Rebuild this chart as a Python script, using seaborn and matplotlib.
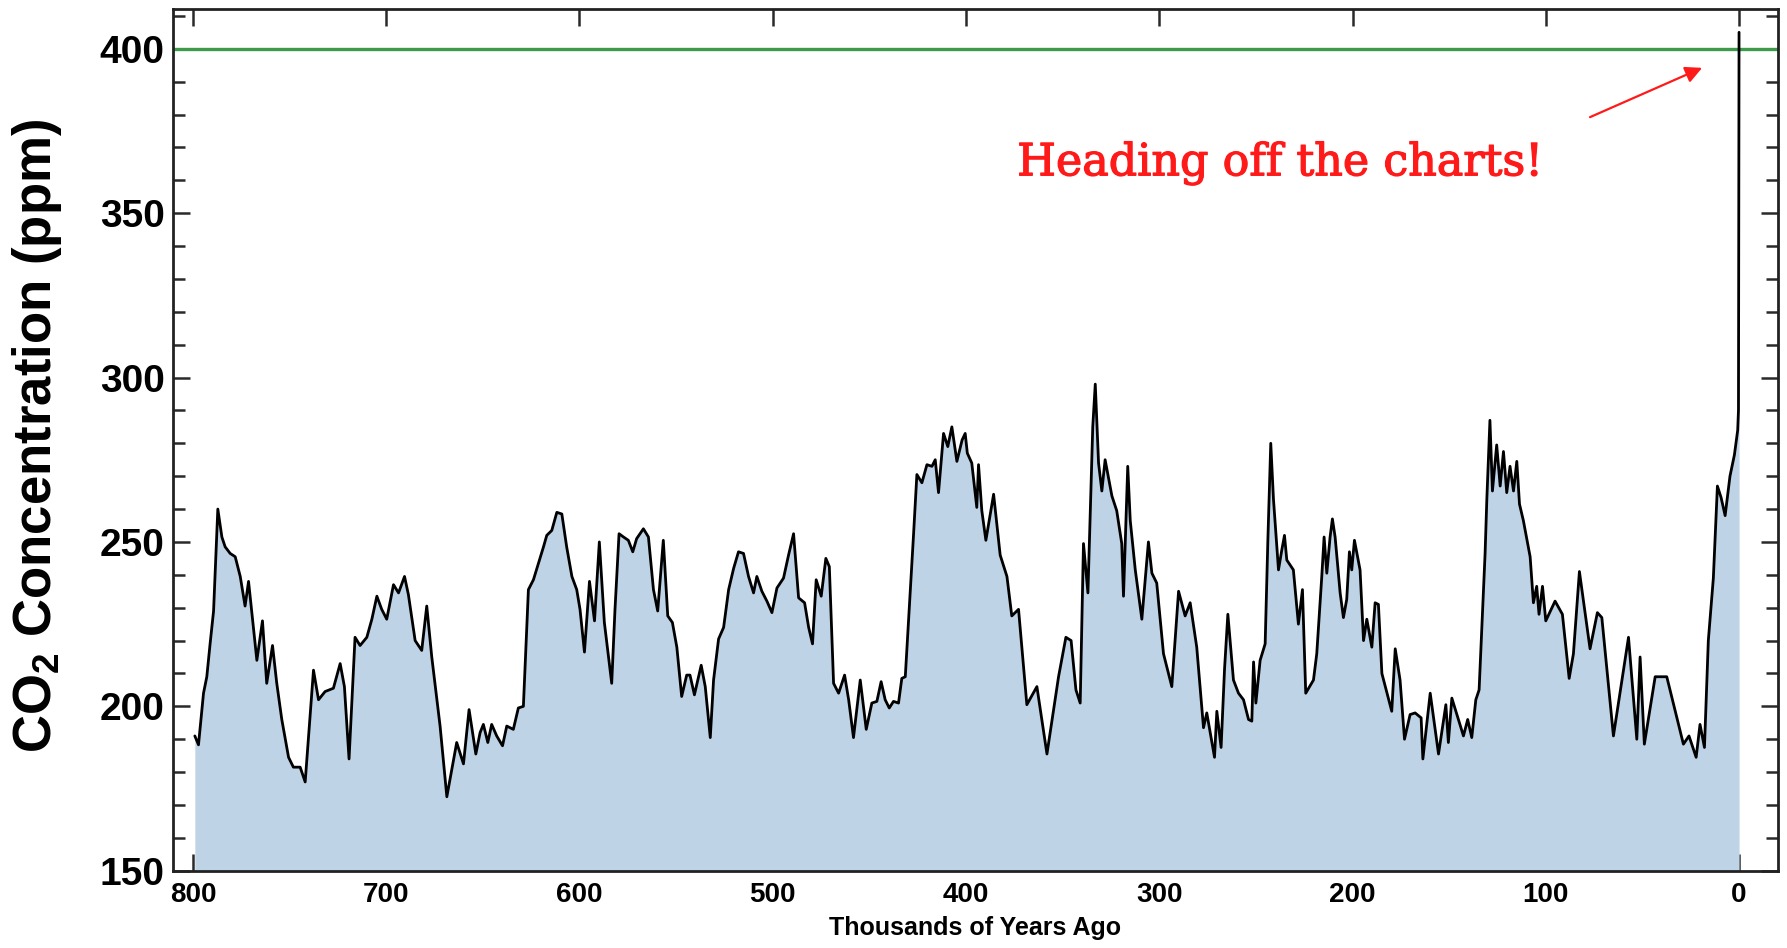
import matplotlib
matplotlib.use("Agg")
import matplotlib.pyplot as plt
import matplotlib.patheffects as pe
from matplotlib.ticker import MultipleLocator
import pandas as pd
import seaborn as sns

# Ice-core CO2 record: age in thousands of years before present, concentration in ppm
kyr_ago = [
    799.0, 797.1, 794.5, 792.8, 791.1, 789.3, 787.1, 785.0, 783.3, 780.7,
    778.1, 775.5, 773.0, 771.2, 769.5, 766.9, 764.0, 761.8, 758.8, 756.6,
    754.0, 750.5, 748.0, 744.5, 741.9, 737.6, 735.0, 731.6, 727.3, 723.8,
    721.6, 719.2, 716.1, 713.5, 710.0, 707.4, 704.8, 702.3, 699.7, 696.2,
    693.6, 690.5, 688.5, 685.0, 681.6, 679.0, 676.4, 672.1, 668.6, 666.1,
    663.5, 660.0, 657.1, 653.6, 651.4, 649.7, 647.4, 645.4, 642.8, 639.8,
    637.6, 634.2, 631.6, 629.0, 626.4, 623.8, 621.2, 618.6, 616.9, 614.3,
    611.7, 609.1, 606.6, 603.9, 601.4, 599.7, 597.4, 594.8, 592.2, 589.7,
    587.1, 583.3, 581.6, 579.5, 577.2, 574.7, 572.4, 570.4, 566.9, 564.3,
    561.7, 559.5, 556.6, 554.3, 551.9, 549.6, 547.1, 544.5, 542.8, 540.5,
    537.0, 534.9, 532.3, 530.6, 528.0, 525.4, 522.8, 520.2, 517.7, 515.1,
    512.5, 509.9, 508.2, 505.6, 503.0, 500.4, 497.8, 494.4, 491.8, 489.2,
    486.6, 483.5, 481.4, 479.4, 477.5, 474.9, 472.5, 470.7, 468.5, 465.9,
    462.8, 460.7, 458.2, 454.7, 453.9, 451.6, 448.7, 446.1, 443.9, 441.8,
    439.7, 437.5, 434.9, 433.2, 431.4, 429.7, 427.1, 425.4, 422.8, 420.2,
    417.6, 415.9, 414.2, 411.6, 409.4, 407.3, 404.7, 402.0, 400.4, 399.3,
    397.0, 394.4, 393.5, 391.8, 389.7, 385.7, 382.3, 378.8, 376.3, 372.8,
    368.5, 363.3, 358.1, 352.1, 348.3, 345.6, 343.1, 340.9, 339.2, 336.9,
    334.4, 333.1, 331.4, 329.7, 328.0, 324.5, 322.0, 319.4, 318.5, 316.3,
    315.0, 312.4, 309.0, 305.6, 303.8, 301.3, 297.8, 293.5, 290.0, 286.6,
    284.0, 280.6, 277.1, 275.4, 271.4, 270.2, 268.0, 266.2, 264.5, 261.6,
    259.0, 256.4, 253.8, 252.1, 251.2, 250.0, 247.8, 245.2, 243.8, 242.3,
    240.9, 238.3, 236.6, 235.2, 234.0, 230.6, 228.0, 225.9, 224.2, 220.2,
    218.5, 215.9, 214.7, 213.3, 211.6, 210.4, 209.0, 206.4, 204.7, 203.0,
    201.6, 200.4, 199.0, 196.1, 194.3, 192.6, 190.0, 188.3, 186.6, 184.8,
    179.7, 177.9, 175.4, 173.1, 170.2, 167.6, 164.5, 163.6, 159.8, 155.5,
    151.7, 150.4, 148.6, 142.6, 140.4, 138.3, 136.2, 134.5, 133.1, 131.4,
    130.5, 128.9, 127.6, 125.4, 123.6, 121.9, 120.2, 118.5, 116.7, 115.0,
    113.6, 111.6, 108.1, 106.4, 104.7, 103.5, 101.7, 100.0, 95.2, 91.4,
    87.9, 85.7, 82.6, 77.1, 73.3, 71.0, 65.0, 57.2, 52.9, 51.2,
    49.0, 43.4, 37.4, 28.8, 25.9, 22.2, 20.2, 17.9, 15.9, 13.3,
    11.2, 9.3, 7.2, 4.7, 2.4, 0.7, 0.3, 0.0,
]
co2_ppm = [
    191.0, 188.3, 204.0, 209.0, 219.0, 229.0, 260.0, 251.5, 248.5, 246.5,
    245.5, 239.5, 230.5, 238.0, 228.5, 214.0, 226.0, 207.0, 218.5, 207.0,
    196.0, 184.5, 181.5, 181.5, 177.0, 211.0, 202.0, 204.5, 205.5, 213.0,
    206.0, 184.0, 221.0, 218.5, 221.0, 226.5, 233.5, 229.5, 226.5, 237.0,
    234.5, 239.5, 234.0, 220.0, 217.0, 230.5, 215.0, 194.0, 172.5, 180.5,
    189.0, 182.5, 199.0, 185.5, 192.0, 194.5, 189.0, 194.5, 191.0, 188.0,
    194.0, 193.0, 199.5, 200.0, 235.5, 238.5, 243.5, 248.5, 252.0, 253.5,
    259.0, 258.5, 248.5, 239.5, 235.5, 229.5, 216.5, 238.0, 226.0, 250.0,
    225.5, 207.0, 229.5, 252.5, 251.5, 250.5, 247.0, 251.0, 254.0, 251.5,
    235.5, 229.0, 250.5, 227.5, 225.5, 218.0, 203.0, 209.5, 209.5, 203.5,
    212.5, 206.0, 190.5, 208.0, 220.5, 224.0, 235.5, 242.0, 247.0, 246.5,
    239.5, 234.5, 239.5, 235.0, 232.0, 228.5, 236.0, 239.0, 246.0, 252.5,
    233.0, 231.5, 224.0, 219.0, 238.5, 233.5, 245.0, 242.5, 207.0, 204.0,
    209.5, 202.0, 190.5, 208.0, 204.0, 193.0, 201.0, 201.5, 207.5, 202.0,
    199.5, 201.5, 201.0, 208.5, 209.0, 226.0, 252.5, 270.5, 268.0, 273.5,
    273.0, 275.0, 265.0, 283.0, 279.0, 285.0, 274.5, 281.0, 283.0, 277.0,
    274.0, 260.5, 273.5, 259.5, 250.5, 264.5, 246.0, 239.5, 227.5, 229.5,
    200.5, 206.0, 185.5, 209.0, 221.0, 220.0, 205.0, 201.0, 249.5, 234.5,
    285.0, 298.0, 274.0, 265.5, 275.0, 264.0, 259.5, 249.5, 233.5, 273.0,
    256.5, 241.5, 226.5, 250.0, 240.5, 237.5, 216.0, 206.0, 235.0, 227.5,
    231.5, 218.0, 193.5, 198.0, 184.5, 198.5, 187.5, 211.5, 228.0, 208.0,
    204.0, 202.0, 196.0, 195.5, 213.5, 201.0, 214.0, 219.0, 250.5, 280.0,
    263.0, 241.5, 247.5, 252.0, 244.5, 241.5, 225.0, 235.5, 204.0, 208.0,
    216.0, 239.5, 251.5, 240.5, 251.5, 257.0, 251.5, 234.5, 227.0, 232.5,
    247.0, 241.5, 250.5, 241.5, 220.0, 226.5, 218.0, 231.5, 231.0, 210.0,
    198.5, 217.5, 208.0, 190.0, 197.5, 198.0, 196.5, 184.0, 204.0, 185.5,
    200.5, 189.0, 202.5, 191.0, 196.0, 190.5, 202.0, 205.0, 223.5, 246.5,
    263.0, 287.0, 265.5, 279.5, 267.0, 277.5, 265.0, 273.0, 265.5, 274.5,
    261.5, 256.5, 245.5, 231.5, 236.5, 228.0, 236.5, 226.0, 232.0, 228.0,
    208.5, 216.0, 241.0, 217.5, 228.5, 227.0, 191.0, 221.0, 190.0, 215.0,
    188.5, 209.0, 209.0, 188.5, 191.0, 184.5, 194.5, 187.5, 220.0, 239.0,
    267.0, 263.5, 258.0, 270.0, 276.5, 284.0, 290.0, 405.0,
]

x_ticks = [800, 700, 600, 500, 400, 300, 200, 100, 0]
y_ticks = [150, 200, 250, 300, 350, 400]
current_level = 400
note_text = "Heading off the charts!"
x_label = "Thousands of Years Ago"
y_label = "CO$_2$ Concentration (ppm)"

sns.set_theme(style="ticks")
plt.rcParams["font.family"] = ["Liberation Sans", "DejaVu Sans"]
plt.rcParams["mathtext.default"] = "regular"
plt.rcParams["text.color"] = "black"
plt.rcParams["axes.labelcolor"] = "black"
plt.rcParams["xtick.labelcolor"] = "black"
plt.rcParams["ytick.labelcolor"] = "black"

fig = plt.figure(figsize=(17.87, 9.48), dpi=100)
ax = fig.add_axes([0.0968, 0.0815, 0.8980, 0.9087])

df = pd.DataFrame({"kyr": kyr_ago, "co2": co2_ppm})

ax.fill_between(df["kyr"], 150, df["co2"], color="#bfd3e6", lw=0, zorder=1)
ax.axhline(current_level, color="#3c9a4a", lw=2.4, zorder=2)
sns.lineplot(data=df, x="kyr", y="co2", estimator=None, sort=True,
             color="black", lw=2.0, ax=ax, zorder=3)

ax.set_xlim(810.3, -20)
ax.set_ylim(150, 412)
ax.set_xticks(x_ticks)
ax.set_yticks(y_ticks)
ax.yaxis.set_minor_locator(MultipleLocator(10))

ax.tick_params(which="both", direction="in", top=True, right=True,
               color="#2a2a2a", width=1.8)
ax.tick_params(which="major", length=12)
ax.tick_params(which="minor", length=8.5)
ax.tick_params(axis="y", labelsize=28, pad=6)
ax.tick_params(axis="x", labelsize=20, pad=8)
for lbl in ax.get_xticklabels() + ax.get_yticklabels():
    lbl.set_fontweight("bold")

for sp in ax.spines.values():
    sp.set_linewidth(2.0)
    sp.set_color("#222222")

ax.set_xlabel(x_label, fontsize=18, fontweight="bold")
ax.set_ylabel(y_label, fontsize=38, fontweight="bold")
ax.xaxis.set_label_coords(0.5, -0.053)
ax.yaxis.set_label_coords(-0.068, 0.505)

red = "#ff1a1a"
ax.text(373.5, 361.5, note_text, color=red, fontsize=32,
        family="DejaVu Serif", ha="left", va="baseline",
        path_effects=[pe.withStroke(linewidth=0.9, foreground=red)])
ax.annotate("", xy=(19.1, 394.2), xytext=(77.1, 379.2),
            arrowprops=dict(arrowstyle="-|>", color=red, lw=1.6,
                            mutation_scale=25, shrinkA=0, shrinkB=0))

fig.savefig("out.png", dpi=100)
